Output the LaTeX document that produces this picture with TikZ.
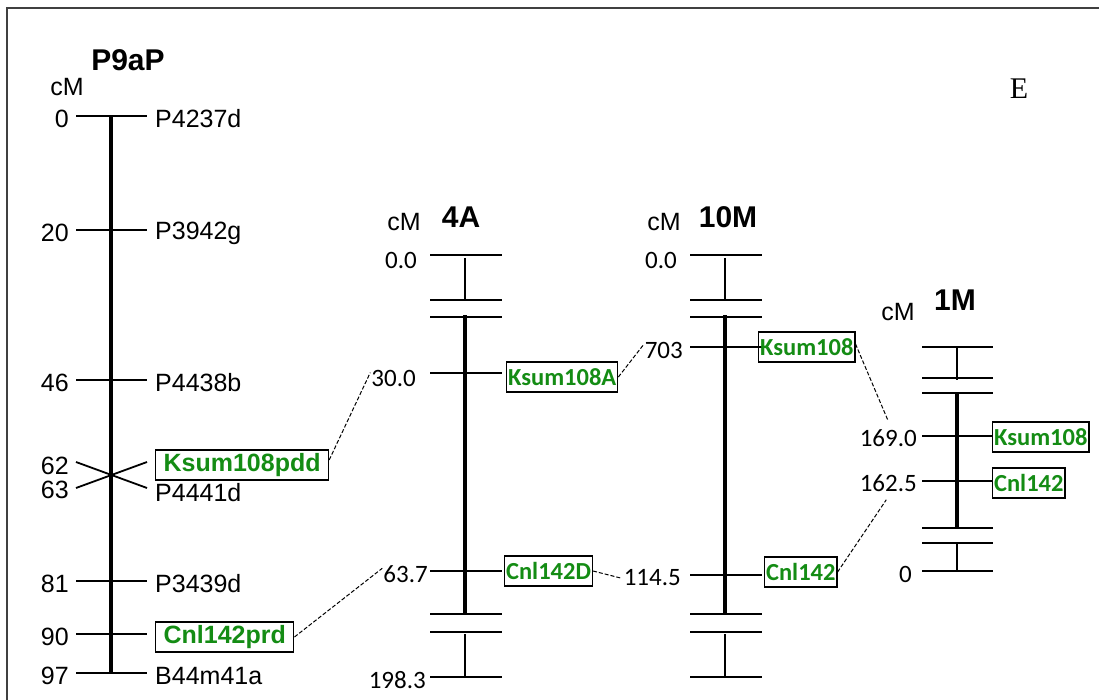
\documentclass[tikz,border=0pt]{standalone}
\usepackage{fontspec}
\setmainfont{Liberation Sans}
\newfontfamily\calfont{Carlito}
\newfontfamily\tmsfont{Liberation Serif}
\definecolor{mkgreen}{RGB}{20,140,20}
\tikzset{
 lbl/.style={font=\fontsize{25}{28}\selectfont, inner sep=0pt},
 num/.style={font=\calfont\fontsize{25}{28}\selectfont, inner sep=0pt},
 ttl/.style={font=\bfseries\fontsize{30}{34}\selectfont, inner sep=0pt},
 gbox/.style={draw, line width=1.2pt, text=mkgreen, font=\calfont\bfseries\fontsize{24.5}{28}\selectfont, inner xsep=1.5pt, inner ysep=0pt, minimum height=30pt},
 abox/.style={draw, line width=1.2pt, text=mkgreen, font=\bfseries\fontsize{25}{28}\selectfont, inner xsep=8pt, inner ysep=0pt, minimum height=30pt},
 tick/.style={line width=1.8pt},
 chrom/.style={line width=3.5pt},
 thinchrom/.style={line width=2.4pt},
 link/.style={dash pattern=on 4pt off 2pt, line width=1pt},
}
\begin{document}
\begin{tikzpicture}[x=1pt,y=-1pt]
\useasboundingbox (0,0) rectangle (1099,700);
\begin{scope}
\clip (0,0) rectangle (1099,700);
\draw[line width=1.8pt, black!75] (7,8) rectangle (1130,730);
\end{scope}
\node[font=\tmsfont\fontsize{30}{34}\selectfont, inner sep=0pt] (E) at (1019,89) {E};

% ---------- P9aP ----------
\node[ttl] (tP) at (128,60) {P9aP};
\node[lbl] (cmP) at (67,87) {cM};
\draw[chrom] (111,116) -- (111,674);
\foreach \y/\n/\m in {116/0/P4237d,230/20/P3942g,380/46/P4438b,581/81/P3439d,673/97/B44m41a}{
  \draw[tick] (76,\y) -- (147,\y);
  \node[lbl, anchor=east] (pl\n) at (69,\y+3) {\n};
  \node[lbl, anchor=west] (pr\n) at (155,\y+3) {\m};
}
\draw[tick] (76,634) -- (147,634);
\node[lbl, anchor=east] (pl90) at (69,637) {90};
\node[abox, anchor=west] (cprd) at (155,637) {Cnl142prd};
\draw[tick] (76,462) -- (147,488);
\draw[tick] (76,488) -- (147,462);
\node[lbl, anchor=east] (pl62) at (69,466) {62};
\node[lbl, anchor=east] (pl63) at (69,490) {63};
\node[abox, anchor=west] (kpdd) at (155,465) {Ksum108pdd};
\node[lbl, anchor=west] (pr63) at (155,493) {P4441d};

% ---------- 4A ----------
\node[lbl] (cmA) at (404,222) {cM};
\node[ttl] (tA) at (461,217) {4A};
\draw[thinchrom] (465,258) -- (465,300);
\draw[chrom] (465,315) -- (465,613);
\draw[thinchrom] (465,634) -- (465,677);
\foreach \y in {255,300,317,373,571,614,632,677}{\draw[tick] (430,\y) -- (502,\y);}
\node[num, anchor=east] (a00) at (417,260) {0.0};
\node[num, anchor=east] (a30) at (416,378) {30.0};
\node[num, anchor=east] (a637) at (428,574) {63.7};
\node[num, anchor=east] (a1983) at (426,680) {198.3};
\node[gbox, anchor=west] (kA) at (506,377) {Ksum108A};
\node[gbox, anchor=west] (cD) at (504,571) {Cnl142D};

% ---------- 10M ----------
\node[lbl] (cmM) at (664,222) {cM};
\node[ttl] (tM) at (728,217) {10M};
\draw[thinchrom] (725,258) -- (725,300);
\draw[chrom] (725,315) -- (725,613);
\draw[thinchrom] (725,634) -- (725,677);
\foreach \y in {255,300,317,347,575,614,632,677}{\draw[tick] (690,\y) -- (762,\y);}
\node[num, anchor=east] (m00) at (677,260) {0.0};
\node[num, anchor=east] (m703) at (683,350) {703};
\node[num, anchor=east] (m1145) at (681,578) {114.5};
\node[gbox, anchor=west] (k10) at (758,347) {Ksum108};
\node[gbox, anchor=west] (c10) at (764,572) {Cnl142};

% ---------- 1M ----------
\node[lbl] (cm1) at (898,312) {cM};
\node[ttl] (t1) at (955,300) {1M};
\draw[thinchrom] (957,347) -- (957,380);
\draw[chrom] (957,393) -- (957,528);
\draw[thinchrom] (957,543) -- (957,571);
\foreach \y in {347,378,393,436,481,528,543,571}{\draw[tick] (922,\y) -- (993,\y);}
\node[num, anchor=east] (o169) at (917,438) {169.0};
\node[num, anchor=east] (o1625) at (917,483) {162.5};
\node[num, anchor=east] (o0) at (912,574) {0};
\node[gbox, anchor=west] (k1) at (992,437) {Ksum108};
\node[gbox, anchor=west] (c1) at (992,483) {Cnl142};

% ---------- links ----------
\draw[link] ([yshift=5pt]kpdd.east) -- ([xshift=-1pt,yshift=-3pt]a30.north west);
\draw[link] (cprd.east) -- ([xshift=-1pt,yshift=-3pt]a637.north west);
\draw[link] (kA.east) -- ([xshift=-1pt,yshift=-3pt]m703.north west);
\draw[link] (cD.east) -- ([xshift=-3pt]m1145.west);
\draw[link] ([yshift=3pt]k10.east) -- ([yshift=8pt]o169.north);
\draw[link] (c10.east) -- ([xshift=-2pt,yshift=-8pt]o1625.south);
\end{tikzpicture}
\end{document}
